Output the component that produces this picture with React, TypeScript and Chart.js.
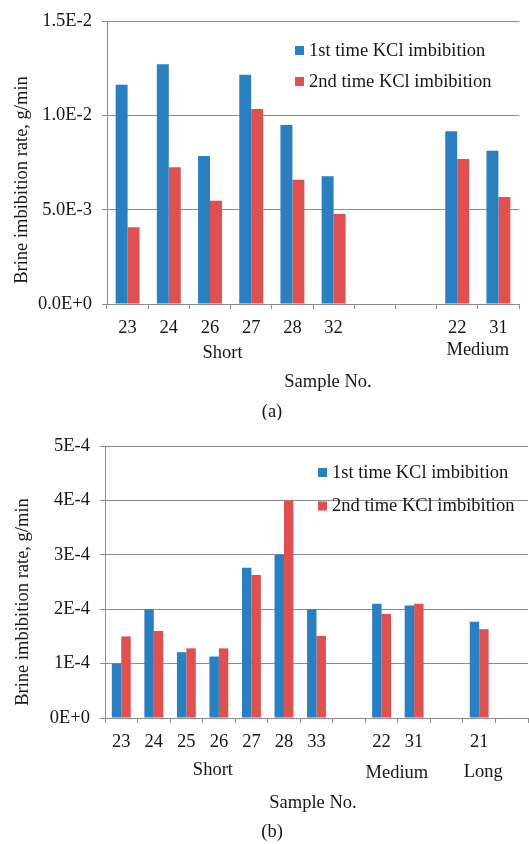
import React, { useEffect, useRef } from "react";
import { Chart, registerables } from "chart.js";

Chart.register(...registerables);

// ---------- data ----------
const seriesNames = ["1st time KCl imbibition", "2nd time KCl imbibition"];

const categoriesA = ["23", "24", "26", "27", "28", "32", "", "", "22", "31"];
const firstA = [0.01162, 0.01271, 0.00785, 0.01215, 0.00949, 0.00678, null, null, 0.00916, 0.00812];
const secondA = [0.00407, 0.00725, 0.00548, 0.01034, 0.00659, 0.00477, null, null, 0.00769, 0.00567];
const yTicksA = ["0.0E+0", "5.0E-3", "1.0E-2", "1.5E-2"];
const groupsA = [
  { label: "Short", from: 0, to: 5 },
  { label: "Medium", from: 8, to: 9 },
];

const categoriesB = ["23", "24", "25", "26", "27", "28", "33", "", "22", "31", "", "21", ""];
const firstB = [1.0e-4, 2.0e-4, 1.21e-4, 1.13e-4, 2.76e-4, 3.0e-4, 2.0e-4, null, 2.1e-4, 2.07e-4, null, 1.77e-4, null];
const secondB = [1.5e-4, 1.6e-4, 1.28e-4, 1.28e-4, 2.63e-4, 4.0e-4, 1.51e-4, null, 1.91e-4, 2.1e-4, null, 1.63e-4, null];
const yTicksB = ["0E+0", "1E-4", "2E-4", "3E-4", "4E-4", "5E-4"];
const groupsB = [
  { label: "Short", from: 0, to: 6 },
  { label: "Medium", from: 8, to: 9 },
  { label: "Long", from: 11, to: 11 },
];

const yTitle = "Brine imbibition rate, g/min";
const xTitle = "Sample No.";

// ---------- style ----------
const BLUE = "#2A7FC1";
const RED = "#DF5050";
const GRID = "#8C8C8C";
const TEXT = "#151515";
const FONT = '"Liberation Serif", "Times New Roman", serif';
const FS = 18.5;

const annotate = {
  id: "annotate",
  afterDraw(chart: any, _args: any, opts: any) {
    const { ctx, chartArea } = chart;
    const xs = chart.scales.x;
    ctx.save();
    ctx.font = `${FS}px ${FONT}`;
    ctx.fillStyle = TEXT;
    ctx.textAlign = "center";
    ctx.textBaseline = "middle";
    (opts.groups || []).forEach((g: any, i: number) => {
      const cx = (xs.getPixelForValue(g.from) + xs.getPixelForValue(g.to)) / 2 + (opts.groupDx[i] || 0);
      ctx.fillText(g.label, cx, chartArea.bottom + opts.groupDy[i]);
    });
    ctx.fillText(opts.xTitle, opts.xTitleX, chartArea.bottom + opts.xTitleDy);
    ctx.fillText(opts.caption, opts.captionX, chartArea.bottom + opts.captionDy);
    ctx.save();
    ctx.translate(opts.yTitleX, opts.yTitleY);
    ctx.rotate(-Math.PI / 2);
    ctx.fillText(opts.yTitle, 0, 0);
    ctx.restore();
    chart.data.datasets.forEach((ds: any, i: number) => {
      const ly = opts.legendY + i * opts.legendGap;
      ctx.fillStyle = ds.backgroundColor;
      ctx.fillRect(opts.legendX, ly - 4.5, 9, 9);
      ctx.fillStyle = TEXT;
      ctx.textAlign = "left";
      ctx.fillText(ds.label, opts.legendX + 14, ly + 0.5);
    });
    ctx.restore();
  },
};

type Props = {
  width: number;
  height: number;
  categories: string[];
  first: (number | null)[];
  second: (number | null)[];
  yTicks: string[];
  yMax: number;
  yStep: number;
  area: { left: number; top: number; right: number; bottom: number };
  ann: any;
};

function BarChart(p: Props) {
  const ref = useRef<HTMLCanvasElement | null>(null);
  useEffect(() => {
    if (!ref.current) return;
    const chart = new Chart(ref.current, {
      type: "bar",
      data: {
        labels: p.categories,
        datasets: [
          { label: seriesNames[0], data: p.first as any, backgroundColor: BLUE, borderWidth: 0 },
          { label: seriesNames[1], data: p.second as any, backgroundColor: RED, borderWidth: 0 },
        ],
      },
      options: {
        responsive: false,
        animation: false,
        devicePixelRatio: 1,
        layout: {
          padding: { left: 0, top: p.area.top, right: p.width - p.area.right, bottom: 0 },
        },
        datasets: {
          bar: { categoryPercentage: 0.58, barPercentage: 1.0 },
        },
        plugins: {
          legend: { display: false },
          tooltip: { enabled: false },
          annotate: p.ann,
        } as any,
        scales: {
          x: {
            afterFit: (s: any) => {
              s.height = p.height - p.area.bottom;
            },
            grid: {
              offset: true,
              drawOnChartArea: false,
              drawTicks: true,
              tickLength: 5,
              color: GRID,
              lineWidth: 1,
            },
            border: { color: GRID, width: 1 },
            ticks: {
              font: { family: FONT, size: FS },
              color: TEXT,
              padding: 8,
              maxRotation: 0,
              autoSkip: false,
            },
          },
          y: {
            min: 0,
            max: p.yMax,
            afterFit: (s: any) => {
              s.width = p.area.left;
            },
            grid: { color: GRID, lineWidth: 1, tickLength: 5, drawTicks: true },
            border: { color: GRID, width: 1 },
            ticks: {
              stepSize: p.yStep,
              font: { family: FONT, size: FS },
              color: TEXT,
              padding: 10,
              callback: (_v: any, i: number) => p.yTicks[i],
            },
          },
        },
      },
      plugins: [annotate],
    });
    return () => chart.destroy();
  }, []);
  return <canvas ref={ref} width={p.width} height={p.height} style={{ display: "block" }} />;
}

export default function App() {
  return (
    <div style={{ position: "absolute", left: 0, top: 0, width: 529, height: 844, background: "#fff" }}>
      <BarChart
        width={529}
        height={420}
        categories={categoriesA}
        first={firstA}
        second={secondA}
        yTicks={yTicksA}
        yMax={0.015}
        yStep={0.005}
        area={{ left: 107, top: 20, right: 519, bottom: 304 }}
        ann={{
          groups: groupsA,
          groupDx: [-8, 0],
          groupDy: [49, 46],
          xTitle,
          xTitleX: 328,
          xTitleDy: 78,
          caption: "(a)",
          captionX: 272,
          captionDy: 108,
          yTitle,
          yTitleX: 22,
          yTitleY: 180,
          legendX: 295,
          legendY: 50.5,
          legendGap: 31,
        }}
      />
      <BarChart
        width={529}
        height={424}
        categories={categoriesB}
        first={firstB}
        second={secondB}
        yTicks={yTicksB}
        yMax={0.0005}
        yStep={0.0001}
        area={{ left: 105, top: 26, right: 528, bottom: 298 }}
        ann={{
          groups: groupsB,
          groupDx: [-6, -1, 4],
          groupDy: [52, 55, 54],
          xTitle,
          xTitleX: 313,
          xTitleDy: 85,
          caption: "(b)",
          captionX: 272,
          captionDy: 114,
          yTitle,
          yTitleX: 23,
          yTitleY: 182,
          legendX: 318,
          legendY: 52.5,
          legendGap: 33.5,
        }}
      />
    </div>
  );
}
